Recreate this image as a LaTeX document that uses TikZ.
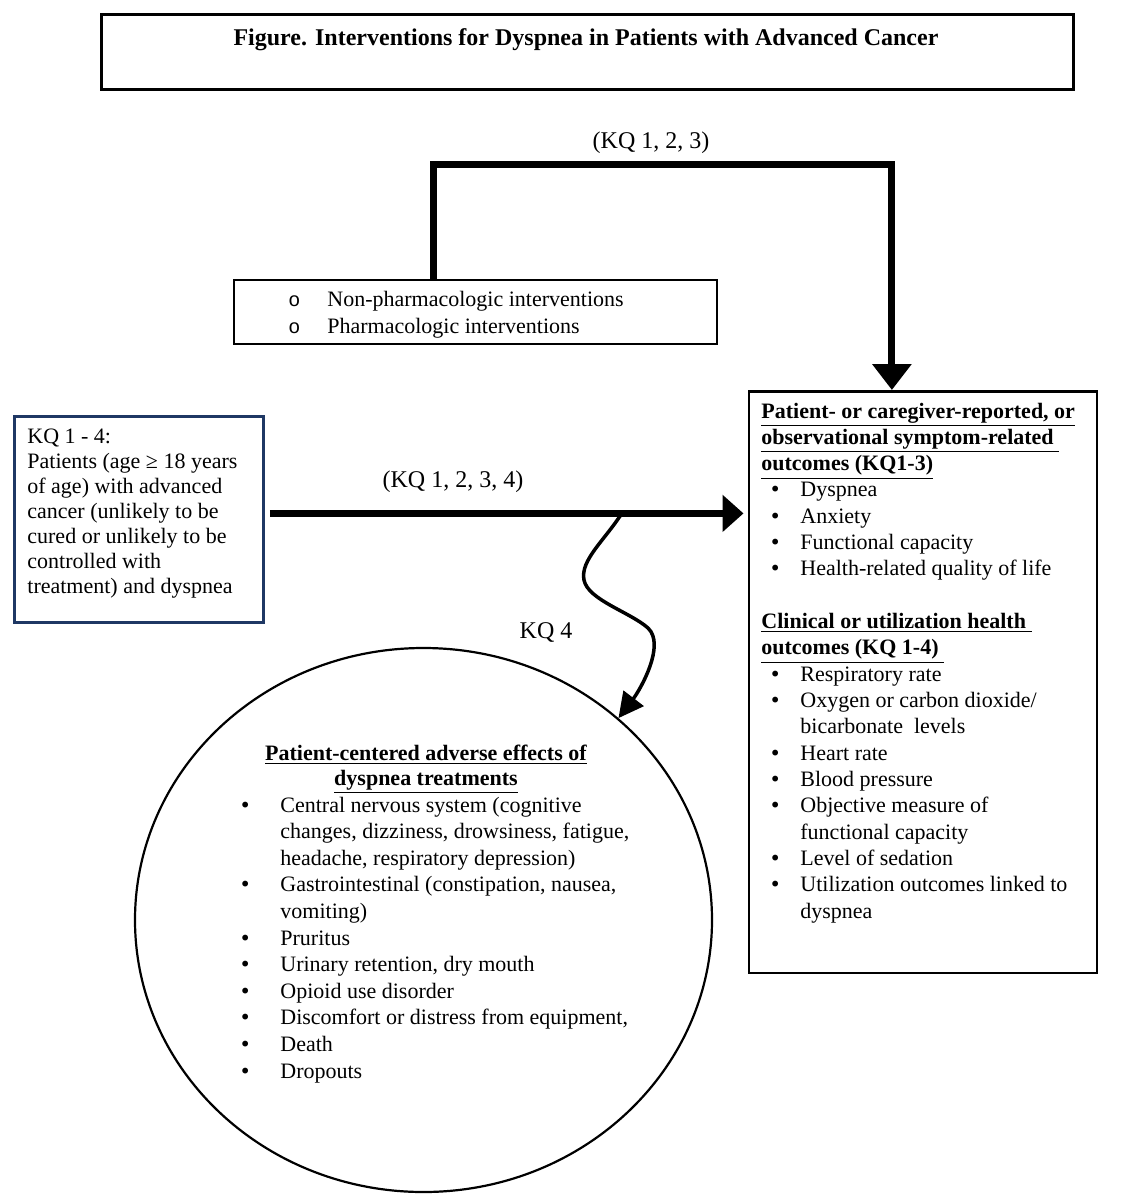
\documentclass[tikz,border=0pt]{standalone}
\usepackage{fontspec}
\setmainfont{Liberation Serif}
\newfontfamily\monofnt{Liberation Mono}
\newfontfamily\bulfont{DejaVu Sans}
\usetikzlibrary{arrows.meta,shapes.geometric}
\definecolor{navy}{HTML}{1F3864}
\newcommand\bigbul{{\fontsize{10}{12}\bulfont •}}
\newcommand\bul{\makebox[19.5pt][l]{\hspace{4pt}\bigbul}}
\newcommand\cbul{\makebox[19.5pt][l]{\hspace{-1pt}\bigbul}}
\newcommand\ind{\hspace*{19.5pt}}
\newcommand\obul{\makebox[19.5pt][l]{\fontsize{10}{12}\monofnt o}}
\newcommand\hd[1]{\smash{\underline{\textbf{#1}}}}
\begin{document}
\begin{tikzpicture}[x=0.5pt,y=-0.5pt,
  frame/.style={draw, inner sep=0pt, anchor=north west},
  txt/.style={inner sep=0pt, anchor=base west},
  lbl/.style={inner sep=0pt, anchor=base, font=\fontsize{12}{14}\selectfont},
  bigarrow/.style={line width=3.5pt}
]
\useasboundingbox (0,0) rectangle (1123,1200);
\fill[white] (0,0) rectangle (1123,1200);

% title
\node[frame, line width=1.4pt, minimum width=486pt, minimum height=37.5pt] (titlebox) at (100,13) {};
\node[lbl, font=\fontsize{12}{14}\selectfont\bfseries] (title) at (586,45) {Figure. Interventions for Dyspnea in Patients with Advanced Cancer};

% interventions
\node[frame, line width=1pt, minimum width=241.25pt, minimum height=32pt] (intbox) at (233,279) {};
\node[txt, font=\fontsize{11}{13.5}\selectfont] (inttext) at (288,306) {\begin{tabular}[t]{@{}l@{}}
\obul Non-pharmacologic interventions\\
\obul Pharmacologic interventions
\end{tabular}};

% patients
\node[frame, draw=navy, line width=1.4pt, minimum width=124.5pt, minimum height=103pt] (patbox) at (13,415) {};
\node[txt, font=\fontsize{11}{12.5}\selectfont] (pattext) at (27,443) {\begin{tabular}[t]{@{}l@{}}
KQ 1 - 4:\\
Patients (age ≥ 18 years\\
of age) with advanced\\
cancer (unlikely to be\\
cured or unlikely to be\\
controlled with\\
treatment) and dyspnea
\end{tabular}};

% outcomes
\node[frame, line width=1.4pt, minimum width=174pt, minimum height=290.75pt] (outc) at (747.5,390) {};
\node[txt, font=\fontsize{11}{13.16}\selectfont] (outctext) at (761,418) {\begin{tabular}[t]{@{}l@{}}
\hd{Patient- or caregiver-reported, or}\\
\hd{observational symptom-related\ }\\
\hd{outcomes (KQ1-3)}\\
\bul Dyspnea\\
\bul Anxiety\\
\bul Functional capacity\\
\bul Health-related quality of life\\
\\
\hd{Clinical or utilization health\ }\\
\hd{outcomes (KQ 1-4)\ }\\
\bul Respiratory rate\\
\bul Oxygen or carbon dioxide/\\
\ind bicarbonate\ \ levels\\
\bul Heart rate\\
\bul Blood pressure\\
\bul Objective measure of\\
\ind functional capacity\\
\bul Level of sedation\\
\bul Utilization outcomes linked to\\
\ind dyspnea
\end{tabular}};

% adverse effects ellipse
\node[ellipse, draw, line width=1.1pt, inner sep=0pt, minimum width=288.5pt, minimum height=272pt] (circ) at (423.5,920) {};
\node[inner sep=0pt, anchor=base, font=\fontsize{11}{12.6}\selectfont] (circhead) at (426,760) {\begin{tabular}[t]{@{}c@{}}
\hd{Patient-centered adverse effects of}\\
\hd{dyspnea treatments}
\end{tabular}};
\node[txt, font=\fontsize{11}{13.3}\selectfont] (circtext) at (241,812) {\begin{tabular}[t]{@{}l@{}}
\cbul Central nervous system (cognitive\\
\ind changes, dizziness, drowsiness, fatigue,\\
\ind headache, respiratory depression)\\
\cbul Gastrointestinal (constipation, nausea,\\
\ind vomiting)\\
\cbul Pruritus\\
\cbul Urinary retention, dry mouth\\
\cbul Opioid use disorder\\
\cbul Discomfort or distress from equipment,\\
\cbul Death\\
\cbul Dropouts
\end{tabular}};

% labels
\node[lbl] (kq123) at (651,148) {(KQ 1, 2, 3)};
\node[lbl] (kq1234) at (453,487) {(KQ 1, 2, 3, 4)};
\node[lbl] (kq4) at (546,638) {KQ 4};

% connectors
\draw[bigarrow, -{Triangle[length=13pt,width=19pt]}]
  ([xshift=-21.1pt]intbox.north) -- ++(0,-115) -| ([xshift=-15.5pt]outc.north);
\coordinate (mstart) at ([xshift=2.5pt,yshift=3pt]patbox.east);
\draw[bigarrow, shorten >=2pt, -{Triangle[length=10.5pt,width=18pt]}]
  (mstart) -- (mstart -| outc.west);
\coordinate (wstart) at (622,513);
\draw[line width=1.75pt, -{Triangle[length=12.5pt,width=12.5pt]}]
  (wstart) .. controls (605,540) and (580,560) .. (584,580)
  .. controls (588,600) and (630,612) .. (648,628)
  .. controls (666,645) and (640,690) .. (circ.46);
\end{tikzpicture}
\end{document}
